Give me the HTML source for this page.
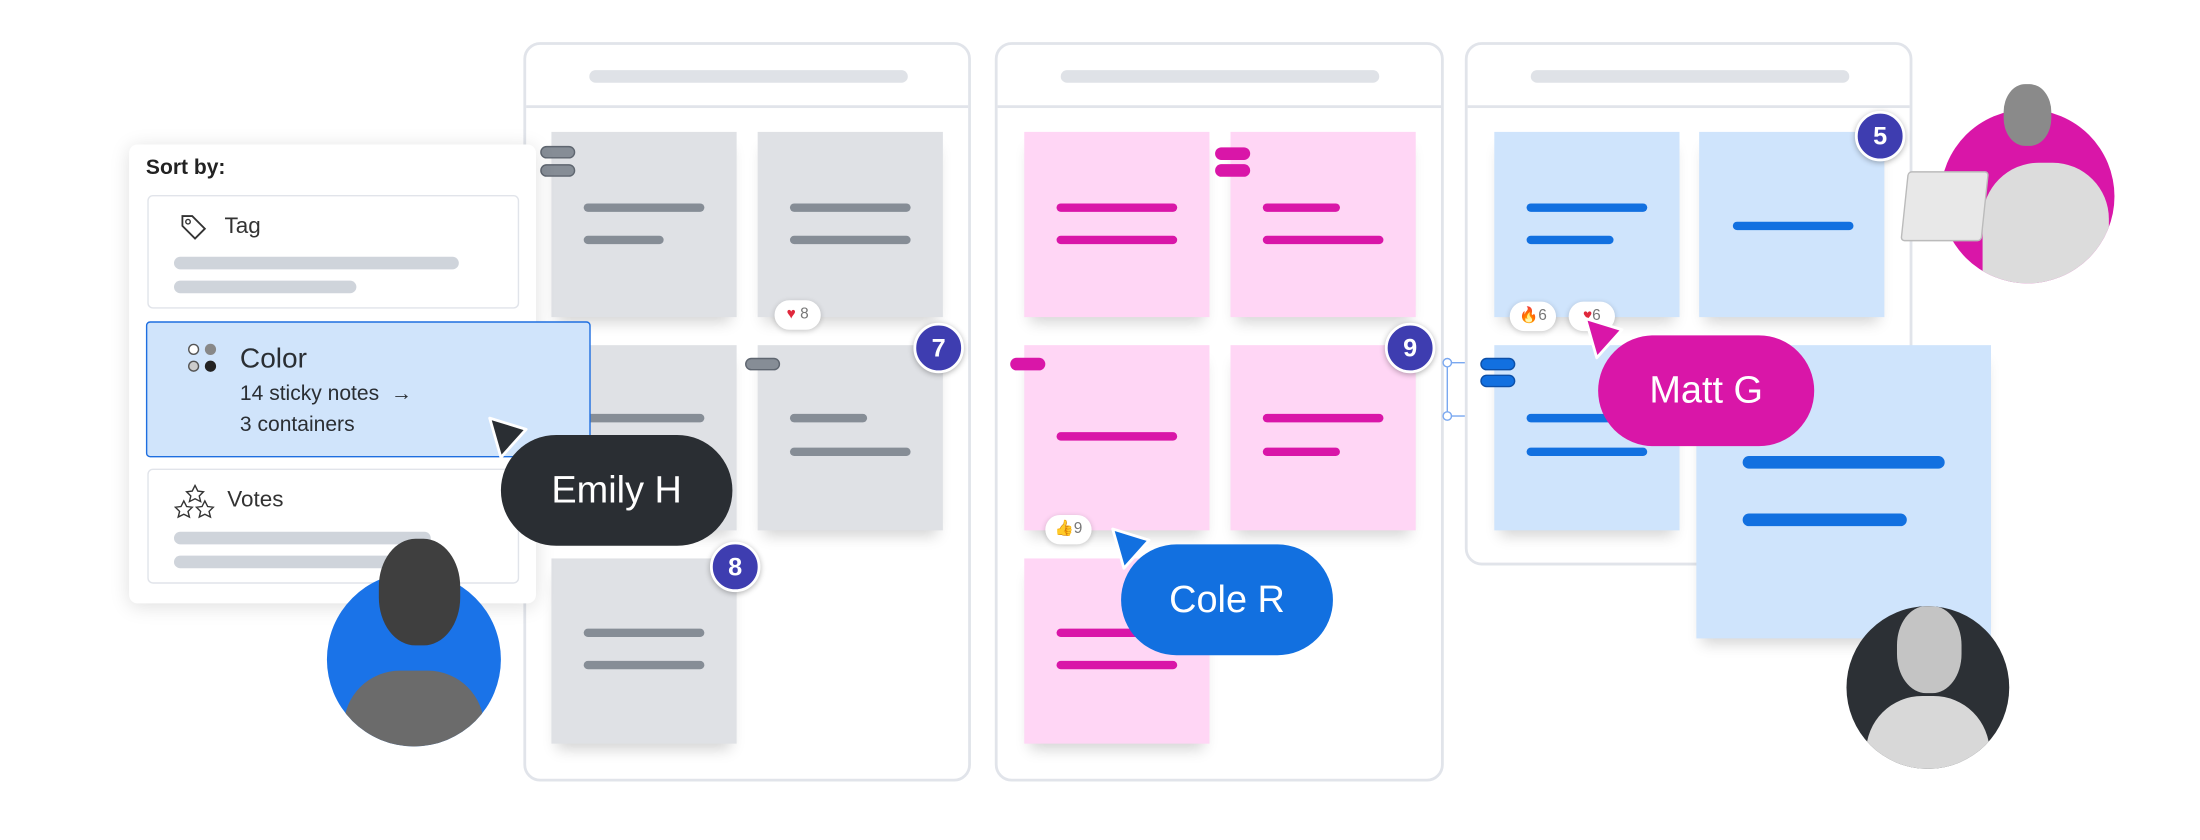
<!DOCTYPE html>
<html><head><meta charset="utf-8"><style>
*{margin:0;padding:0;box-sizing:border-box}
body{width:2200px;height:840px;background:#fff;overflow:hidden;font-family:"Liberation Sans",sans-serif}
#w{position:absolute;left:0;top:0;width:1568px;height:599px;transform:scale(1.4031);transform-origin:0 0}
.a{position:absolute}
.cont{position:absolute;border:2px solid #e1e4ea;border-radius:12px;background:#fff}
.hb{position:absolute;height:9px;border-radius:5px;background:#dfe2e7}
.sep{position:absolute;left:0;right:0;height:2px;background:#e1e4ea}
.st{position:absolute;width:132px;height:132px;box-shadow:0 8px 10px -4px rgba(0,0,0,.18)}
.g{background:#dfe1e5}.p{background:#ffd6f5}.b{background:#cfe4fc}
.ln{position:absolute;height:6px;border-radius:3px}
.lg{background:#868d96}.lp{background:#d916a8}.lb{background:#1270e0}
.badge{position:absolute;width:36px;height:36px;border-radius:50%;background:#3e3db0;border:2px solid #fff;box-shadow:0 1px 4px rgba(0,0,0,.3);color:#fff;font-size:18px;font-weight:bold;text-align:center;line-height:32px}
.pill{position:absolute;border-radius:40px;color:#fff;font-size:27px;text-align:center;line-height:79px;height:79px}
.tg{position:absolute;width:25px;height:9px;border-radius:5px}
.chip{position:absolute;width:33px;height:21px;border-radius:11px;background:#fff;box-shadow:0 1px 4px rgba(0,0,0,.2);font-size:11px;color:#777;line-height:21px;text-align:center}
.bar{position:absolute;height:9px;border-radius:5px;background:#cfd4db}
.box{position:absolute;border:1.5px solid #e1e4ea;border-radius:4px;background:#fff}
</style></head><body><div id="w">

<div class="cont" style="left:373px;top:30px;width:319px;height:527px"><div class="hb" style="left:45px;top:18px;width:227px"></div><div class="sep" style="top:43px"></div></div>
<div class="cont" style="left:709px;top:30px;width:320px;height:527px"><div class="hb" style="left:45px;top:18px;width:227px"></div><div class="sep" style="top:43px"></div></div>
<div class="cont" style="left:1044px;top:30px;width:319px;height:373px"><div class="hb" style="left:45px;top:18px;width:227px"></div><div class="sep" style="top:43px"></div></div>

<div class="st g" style="left:393px;top:94px"><div class="ln lg" style="left:23px;top:51px;width:86px"></div><div class="ln lg" style="left:23px;top:74px;width:57px"></div></div>
<div class="st g" style="left:540px;top:94px"><div class="ln lg" style="left:23px;top:51px;width:86px"></div><div class="ln lg" style="left:23px;top:74px;width:86px"></div></div>
<div class="st g" style="left:393px;top:246px"><div class="ln lg" style="left:23px;top:49px;width:86px"></div></div>
<div class="st g" style="left:540px;top:246px"><div class="ln lg" style="left:23px;top:49px;width:55px"></div><div class="ln lg" style="left:23px;top:73px;width:86px"></div></div>
<div class="st g" style="left:393px;top:398px"><div class="ln lg" style="left:23px;top:50px;width:86px"></div><div class="ln lg" style="left:23px;top:73px;width:86px"></div></div>

<div class="st p" style="left:730px;top:94px"><div class="ln lp" style="left:23px;top:51px;width:86px"></div><div class="ln lp" style="left:23px;top:74px;width:86px"></div></div>
<div class="st p" style="left:877px;top:94px"><div class="ln lp" style="left:23px;top:51px;width:55px"></div><div class="ln lp" style="left:23px;top:74px;width:86px"></div></div>
<div class="st p" style="left:730px;top:246px"><div class="ln lp" style="left:23px;top:62px;width:86px"></div></div>
<div class="st p" style="left:877px;top:246px"><div class="ln lp" style="left:23px;top:49px;width:86px"></div><div class="ln lp" style="left:23px;top:73px;width:55px"></div></div>
<div class="st p" style="left:730px;top:398px"><div class="ln lp" style="left:23px;top:50px;width:86px"></div><div class="ln lp" style="left:23px;top:73px;width:86px"></div></div>

<div class="st b" style="left:1065px;top:94px"><div class="ln lb" style="left:23px;top:51px;width:86px"></div><div class="ln lb" style="left:23px;top:74px;width:62px"></div></div>
<div class="st b" style="left:1211px;top:94px"><div class="ln lb" style="left:24px;top:64px;width:86px"></div></div>
<div class="st b" style="left:1065px;top:246px"><div class="ln lb" style="left:23px;top:49px;width:86px"></div><div class="ln lb" style="left:23px;top:73px;width:86px"></div></div>
<div class="st b" style="left:1209px;top:246px;width:210px;height:209px"><div class="ln lb" style="left:33px;top:79px;width:144px;height:9px;border-radius:5px"></div><div class="ln lb" style="left:33px;top:120px;width:117px;height:9px;border-radius:5px"></div></div>

<div class="tg" style="left:385px;top:104px;background:#868d96;border:1px solid #5f6670"></div>
<div class="tg" style="left:385px;top:117px;background:#868d96;border:1px solid #5f6670"></div>
<div class="tg" style="left:531px;top:255px;background:#868d96;border:1px solid #5f6670"></div>
<div class="tg" style="left:866px;top:105px;background:#d916a8"></div>
<div class="tg" style="left:866px;top:117px;background:#d916a8"></div>
<div class="tg" style="left:720px;top:255px;background:#d916a8"></div>
<div class="tg" style="left:1055px;top:255px;background:#1270e0;border:1px solid #0c4fa8"></div>
<div class="tg" style="left:1055px;top:267px;background:#1270e0;border:1px solid #0c4fa8"></div>
<div class="a" style="left:1031px;top:258px;width:1px;height:40px;background:#7aa8f0"></div>
<div class="a" style="left:1028px;top:255px;width:7px;height:7px;border:1px solid #7aa8f0;border-radius:50%;background:#fff"></div>
<div class="a" style="left:1028px;top:293px;width:7px;height:7px;border:1px solid #7aa8f0;border-radius:50%;background:#fff"></div>
<div class="a" style="left:1034px;top:258px;width:10px;height:1px;background:#7aa8f0"></div>
<div class="a" style="left:1034px;top:296px;width:10px;height:1px;background:#7aa8f0"></div>

<div class="chip" style="left:552px;top:214px"><span style="color:#e0283c">♥</span> 8</div>
<div class="chip" style="left:745px;top:367px">👍9</div>
<div class="chip" style="left:1076px;top:215px"><span style="color:#f08a1c">🔥</span>6</div>
<div class="chip" style="left:1118px;top:215px"><span style="color:#e0283c">♥</span>6</div>

<div class="a" style="left:92px;top:103px;width:290px;height:327px;background:#fff;border-radius:6px;box-shadow:0 2px 14px rgba(0,0,0,.13)">
<div class="a" style="left:12px;top:8px;font-size:15px;font-weight:bold;color:#222">Sort by:</div>
<div class="box" style="left:13px;top:36px;width:265px;height:81px">
 <svg class="a" style="left:22px;top:12px" width="20" height="20" viewBox="0 0 20 20"><path d="M2 2h7l9 9-7 7-9-9z" fill="none" stroke="#333" stroke-width="1.3"/><circle cx="6" cy="6" r="1.6" fill="none" stroke="#333"/></svg>
 <div class="a" style="left:54px;top:13px;font-size:16px;color:#333">Tag</div>
 <div class="bar" style="left:18px;top:43px;width:203px"></div><div class="bar" style="left:18px;top:60px;width:130px"></div>
</div>
<div class="a" style="left:12px;top:126px;width:317px;height:97px;background:#d0e4fb;border:1.5px solid #1e6ee0;border-radius:3px">
 <div class="a" style="left:29px;top:15px;width:8px;height:8px;border-radius:50%;border:1px solid #555;background:#fff"></div>
 <div class="a" style="left:41px;top:15px;width:8px;height:8px;border-radius:50%;background:#888"></div>
 <div class="a" style="left:29px;top:27px;width:8px;height:8px;border-radius:50%;border:1px solid #555;background:#ccc"></div>
 <div class="a" style="left:41px;top:27px;width:8px;height:8px;border-radius:50%;background:#222"></div>
 <div class="a" style="left:66px;top:15px;font-size:20px;color:#2a2e33">Color</div>
 <div class="a" style="left:66px;top:42px;font-size:15px;color:#2a2e33">14 sticky notes &nbsp;→</div>
 <div class="a" style="left:66px;top:64px;font-size:15px;color:#2a2e33">3 containers</div>
</div>
<div class="box" style="left:13px;top:231px;width:265px;height:82px">
 <svg class="a" style="left:18px;top:10px" width="30" height="26" viewBox="0 0 30 26"><g fill="none" stroke="#333" stroke-width="1"><path d="M15 1l2 4 4 .5-3 3 1 4-4-2-4 2 1-4-3-3 4-.5z"/><path d="M7 12l2 4 4 .5-3 3 1 4-4-2-4 2 1-4-3-3 4-.5z"/><path d="M22 12l2 4 4 .5-3 3 1 4-4-2-4 2 1-4-3-3 4-.5z"/></g></svg>
 <div class="a" style="left:56px;top:13px;font-size:16px;color:#333">Votes</div>
 <div class="bar" style="left:18px;top:44px;width:183px"></div><div class="bar" style="left:18px;top:61px;width:183px"></div>
</div>
</div>

<div class="a" style="left:233px;top:408px;width:124px;height:124px;border-radius:50%;background:#1a73e8;overflow:hidden">
 <div class="a" style="left:12px;top:70px;width:100px;height:70px;border-radius:40px 40px 0 0;background:#6b6b6b"></div>
</div>
<div class="a" style="left:270px;top:384px;width:58px;height:76px;border-radius:45%;background:#3f3f3f"></div>
<div class="a" style="left:1383px;top:78px;width:124px;height:124px;border-radius:50%;background:#d916a8;overflow:hidden">
 <div class="a" style="left:30px;top:38px;width:90px;height:100px;border-radius:40px 40px 0 0;background:#dcdcdc"></div>
</div>
<div class="a" style="left:1428px;top:60px;width:34px;height:44px;border-radius:45%;background:#8a8a8a"></div>
<div class="a" style="left:1357px;top:122px;width:58px;height:50px;background:#e8e8e8;border:1px solid #bbb;border-radius:3px;transform:skewX(-6deg)"></div>
<div class="a" style="left:1316px;top:432px;width:116px;height:116px;border-radius:50%;background:#2c3035;overflow:hidden">
 <div class="a" style="left:14px;top:64px;width:88px;height:66px;border-radius:40px 40px 0 0;background:#d8d8d8"></div>
 <div class="a" style="left:36px;top:0px;width:46px;height:62px;border-radius:45%;background:#c4c4c4"></div>
</div>

<div class="badge" style="left:651px;top:230px">7</div>
<div class="badge" style="left:506px;top:386px">8</div>
<div class="badge" style="left:987px;top:230px">9</div>
<div class="badge" style="left:1322px;top:79px">5</div>

<svg class="a" style="left:345px;top:294px" width="34" height="36" viewBox="0 0 34 36"><path d="M4 4 L30 12 L12 32 Z" fill="#2a2e33" stroke="#fff" stroke-width="2" stroke-linejoin="round"/></svg>
<div class="pill" style="left:357px;top:310px;width:165px;background:#2a2e33">Emily H</div>
<svg class="a" style="left:789px;top:373px" width="34" height="36" viewBox="0 0 34 36"><path d="M4 4 L30 12 L12 32 Z" fill="#1270e0" stroke="#fff" stroke-width="2" stroke-linejoin="round"/></svg>
<div class="pill" style="left:799px;top:388px;width:151px;background:#1270e0">Cole R</div>
<svg class="a" style="left:1126px;top:223px" width="34" height="36" viewBox="0 0 34 36"><path d="M4 4 L30 12 L12 32 Z" fill="#d916a8" stroke="#fff" stroke-width="2" stroke-linejoin="round"/></svg>
<div class="pill" style="left:1139px;top:239px;width:154px;background:#d916a8">Matt G</div>

</div></body></html>
